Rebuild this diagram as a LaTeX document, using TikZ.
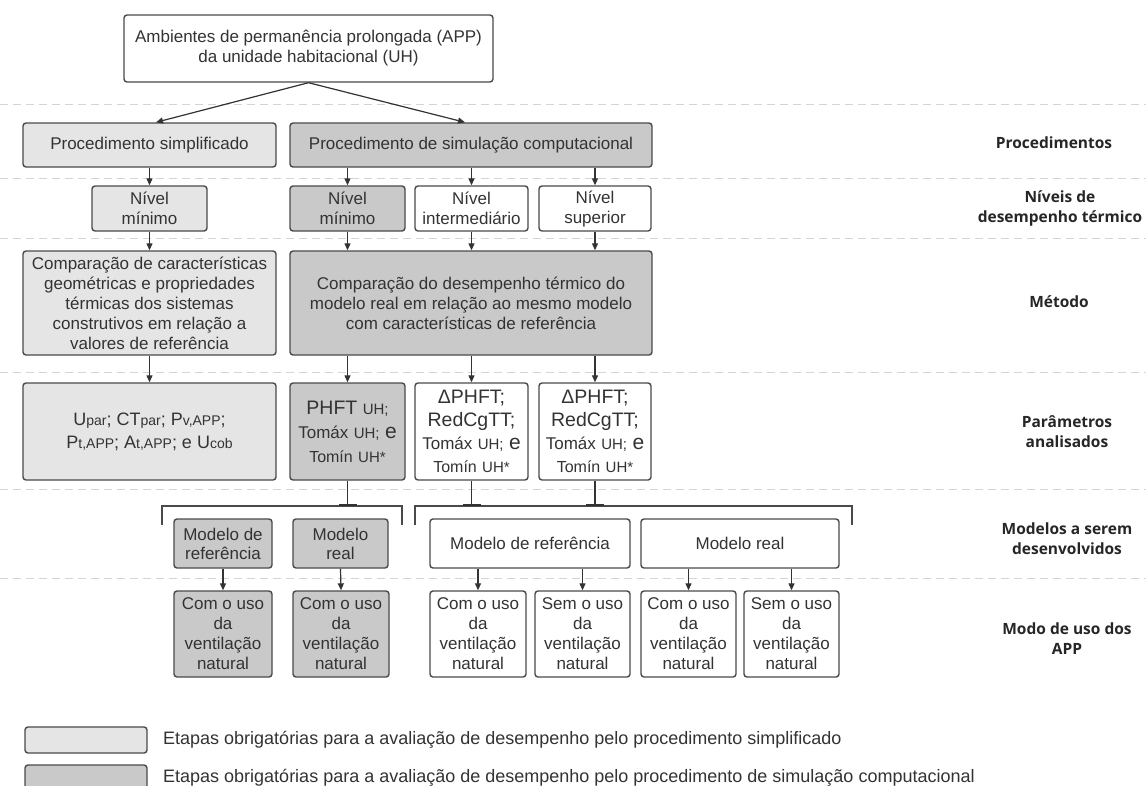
\documentclass[tikz,border=0pt]{standalone}
\usepackage{fontspec}
\setmainfont{Liberation Sans}
\newfontfamily\lblfont{Open Sans}
\usetikzlibrary{arrows.meta,calc}
\definecolor{lightfill}{HTML}{E5E5E5}
\definecolor{darkfill}{HTML}{C9C9C9}
\definecolor{bordercol}{HTML}{4A4A4A}
\definecolor{txt}{HTML}{333333}
\definecolor{sepcol}{HTML}{D4D4D4}
\newcommand{\smtxt}[1]{{\fontsize{14}{23}\selectfont #1}}
\newcommand{\smtxb}[1]{{\fontsize{15}{24}\selectfont #1}}
\tikzset{
 box/.style={draw=bordercol, line width=1.4pt, rounded corners=3pt, inner sep=0pt, align=center, text=txt, font=\fontsize{17}{20}\selectfont},
 lbox/.style={box, fill=lightfill},
 dbox/.style={box, fill=darkfill},
 wbox/.style={box, fill=white},
 arr/.style={draw=txt, line width=1.2pt, -{Triangle[length=7pt,width=6pt]}},
 stem/.style={draw=txt, line width=1.2pt, -{Bar[width=18pt,line width=1.6pt]}},
 brk/.style={draw=bordercol, line width=1.5pt},
 sep/.style={draw=sepcol, line width=1pt, dash pattern=on 8pt off 5pt},
 lbl/.style={font=\lblfont\bfseries\fontsize{15.5}{20}\selectfont, align=center, text=black!85},
 legtext/.style={anchor=west, text=txt, font=\fontsize{18}{20}\selectfont, inner sep=0pt},
}
\begin{document}
\begin{tikzpicture}[x=1pt,y=-1pt]
\useasboundingbox (0,0) rectangle (1146,785);
\fill[white] (0,0) rectangle (1146,785);
% separators
\foreach \yy in {104,178,238,372,489,578}{\draw[sep] (0,\yy) -- (1146,\yy);}
% top
\node[wbox, minimum width=369pt, minimum height=67pt] (top) at (308.5,48.5) {Ambientes de permanência prolongada (APP)\\da unidade habitacional (UH)};
% procedures
\node[lbox, minimum width=253pt, minimum height=44pt] (ps) at (149.5,145) {Procedimento simplificado};
\node[dbox, minimum width=362pt, minimum height=44pt] (psim) at (471,145) {Procedimento de simulação computacional};
% levels
\node[lbox, minimum width=115pt, minimum height=45pt] (n1) at (149.5,208.5) {Nível\\mínimo};
\node[dbox, minimum width=115pt, minimum height=45pt] (n2) at (347.5,208.5) {Nível\\mínimo};
\node[wbox, minimum width=113pt, minimum height=45pt] (n3) at (471.5,208.5) {Nível\\intermediário};
\node[wbox, minimum width=112pt, minimum height=45pt] (n4) at (595,208.5) {Nível\\superior};
% method
\node[lbox, minimum width=253pt, minimum height=104pt] (m1) at (149.5,303) {Comparação de características\\geométricas e propriedades\\térmicas dos sistemas\\construtivos em relação a\\valores de referência};
\node[dbox, minimum width=362pt, minimum height=104pt] (m2) at (471,303) {Comparação do desempenho térmico do\\modelo real em relação ao mesmo modelo\\com características de referência};
% parameters
\node[lbox, minimum width=253pt, minimum height=97pt, font=\fontsize{18}{23}\selectfont] (p1) at (149.5,431.5) {U\smtxt{par}; CT\smtxt{par}; P\smtxt{v,APP};\\P\smtxt{t,APP}; A\smtxt{t,APP}; e U\smtxt{cob}};
\node[dbox, minimum width=115pt, minimum height=97pt, font=\fontsize{19.5}{24}\selectfont] (p2) at (347.5,431.5) {PHFT \smtxb{UH;}\\{\fontsize{17}{24}\selectfont Tomáx} \smtxb{UH;} {\fontsize{21}{24}\selectfont e}\\{\fontsize{16}{24}\selectfont Tomín} \smtxb{UH*}};
\node[wbox, minimum width=113pt, minimum height=97pt, font=\fontsize{19.5}{23}\selectfont] (p3) at (471.5,431.5) {ΔPHFT;\\RedCgTT;\\{\fontsize{17}{23}\selectfont Tomáx} \smtxb{UH;} {\fontsize{21}{23}\selectfont e}\\{\fontsize{16}{23}\selectfont Tomín} \smtxb{UH*}};
\node[wbox, minimum width=112pt, minimum height=97pt, font=\fontsize{19.5}{23}\selectfont] (p4) at (595,431.5) {ΔPHFT;\\RedCgTT;\\{\fontsize{17}{23}\selectfont Tomáx} \smtxb{UH;} {\fontsize{21}{23}\selectfont e}\\{\fontsize{16}{23}\selectfont Tomín} \smtxb{UH*}};
% brackets
\coordinate (bla) at (162,525);
\coordinate (blb) at (162,506);
\coordinate (blc) at (402,506);
\coordinate (bld) at (402,525);
\coordinate (bra) at (415,525);
\coordinate (brb) at (415,506);
\coordinate (brc) at (852,506);
\coordinate (brd) at (852,525);
\draw[brk] (bla) -- (blb) -- (blc) -- (bld);
\draw[brk] (bra) -- (brb) -- (brc) -- (brd);
% models
\node[dbox, minimum width=98pt, minimum height=49pt, font=\fontsize{17}{19}\selectfont] (g1) at (223,543.5) {Modelo de\\referência};
\node[dbox, minimum width=95pt, minimum height=49pt, font=\fontsize{17}{19}\selectfont] (g2) at (340.5,543.5) {Modelo\\real};
\node[wbox, minimum width=200pt, minimum height=49pt] (w1) at (530,543.5) {Modelo de referência};
\node[wbox, minimum width=198pt, minimum height=49pt] (w2) at (740,543.5) {Modelo real};
% bottom
\node[dbox, minimum width=98pt, minimum height=86pt] (b1) at (223,634) {Com o uso\\da\\ventilação\\natural};
\node[dbox, minimum width=96pt, minimum height=86pt] (b2) at (341,634) {Com o uso\\da\\ventilação\\natural};
\node[wbox, minimum width=96pt, minimum height=86pt] (b3) at (478,634) {Com o uso\\da\\ventilação\\natural};
\node[wbox, minimum width=95pt, minimum height=86pt] (b4) at (582.5,634) {Sem o uso\\da\\ventilação\\natural};
\node[wbox, minimum width=95pt, minimum height=86pt] (b5) at (688.5,634) {Com o uso\\da\\ventilação\\natural};
\node[wbox, minimum width=95pt, minimum height=86pt] (b6) at (791.5,634) {Sem o uso\\da\\ventilação\\natural};
% connectors
\draw[arr] (top.south) -- ([xshift=6.5pt]ps.north);
\draw[arr] (top.south) -- ([xshift=-6pt]psim.north);
\draw[arr] (ps.south) -- (n1.north);
\draw[arr] (n2.north |- psim.south) -- (n2.north);
\draw[arr] (n3.north |- psim.south) -- (n3.north);
\draw[arr] (n4.north |- psim.south) -- (n4.north);
\draw[arr] (n1.south) -- (m1.north);
\draw[arr] (n2.south) -- (n2.south |- m2.north);
\draw[arr] (n3.south) -- (n3.south |- m2.north);
\draw[arr] (n4.south) -- (n4.south |- m2.north);
\draw[arr] (m1.south) -- (p1.north);
\draw[arr] (p2.north |- m2.south) -- (p2.north);
\draw[arr] (p3.north |- m2.south) -- (p3.north);
\draw[arr] (p4.north |- m2.south) -- (p4.north);
\draw[stem] (p2.south) -- (p2.south |- blb);
\draw[stem] (p3.south) -- (p3.south |- brb);
\draw[stem] (p4.south) -- (p4.south |- brb);
\draw[arr] (g1.south) -- (b1.north);
\draw[arr] (g2.south) -- (b2.north);
\draw[arr] (b3.north |- w1.south) -- (b3.north);
\draw[arr] (b4.north |- w1.south) -- (b4.north);
\draw[arr] (b5.north |- w2.south) -- (b5.north);
\draw[arr] (b6.north |- w2.south) -- (b6.north);
% right labels
\node[lbl] (l1) at (1054,143) {Procedimentos};
\node[lbl] (l2) at (1060,208) {Níveis de\\desempenho térmico};
\node[lbl] (l3) at (1059,302) {Método};
\node[lbl] (l4) at (1067,432) {Parâmetros\\analisados};
\node[lbl] (l5) at (1067,539) {Modelos a serem\\desenvolvidos};
\node[lbl] (l6) at (1067,639) {Modo de uso dos\\APP};
% legend
\node[lbox, minimum width=122pt, minimum height=26pt] (k1) at (86,740) {};
\node[dbox, minimum width=122pt, minimum height=26pt] (k2) at (86,778) {};
\node[legtext] (t1) at (163,740) {Etapas obrigatórias para a avaliação de desempenho pelo procedimento simplificado};
\node[legtext] (t2) at (163,778) {Etapas obrigatórias para a avaliação de desempenho pelo procedimento de simulação computacional};
\end{tikzpicture}
\end{document}
